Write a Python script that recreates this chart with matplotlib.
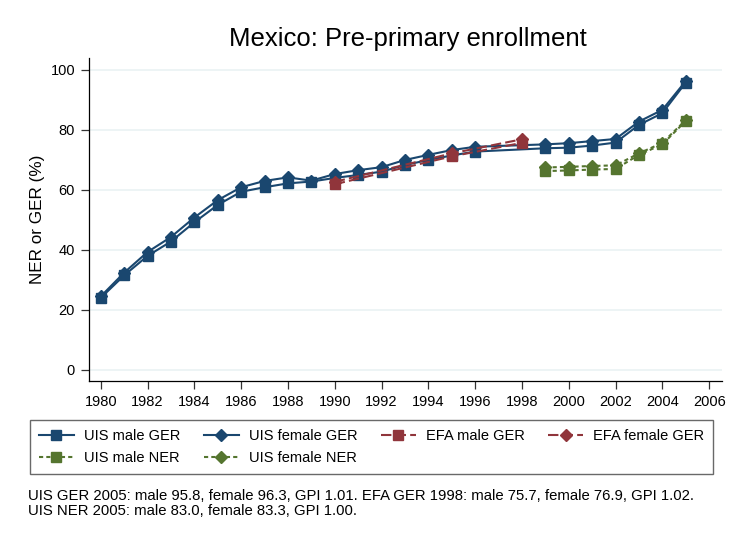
import matplotlib
matplotlib.use("Agg")
import matplotlib.pyplot as plt

plt.rcParams['font.family'] = ['Liberation Sans', 'DejaVu Sans']

# ---- data ----
uis_years = [1980, 1981, 1982, 1983, 1984, 1985, 1986, 1987, 1988, 1989, 1990,
             1991, 1992, 1993, 1994, 1995, 1996, 1999, 2000, 2001, 2002, 2003,
             2004, 2005]
uis_male_ger = [24.0, 31.5, 38.0, 42.8, 49.2, 55.0, 59.4, 60.9, 62.2, 62.8, 64.0,
                65.0, 66.1, 68.3, 70.0, 71.5, 72.8, 73.9, 74.1, 74.8, 75.8, 81.7,
                85.6, 95.8]
uis_female_ger = [24.5, 32.4, 39.3, 44.3, 50.8, 56.6, 60.9, 63.0, 64.2, 63.1, 65.3,
                  66.6, 67.6, 70.0, 71.7, 73.3, 74.4, 75.2, 75.6, 76.3, 77.0, 82.8,
                  86.7, 96.3]

efa_years = [1990, 1995, 1998]
efa_male_ger = [61.9, 71.2, 75.7]
efa_female_ger = [62.7, 72.2, 76.9]

ner_years = [1999, 2000, 2001, 2002, 2003, 2004, 2005]
uis_male_ner = [66.3, 66.5, 66.8, 67.0, 71.7, 75.2, 83.0]
uis_female_ner = [67.5, 67.7, 68.0, 68.2, 72.2, 75.7, 83.3]

x_ticks = list(range(1980, 2007, 2))
y_ticks = [0, 20, 40, 60, 80, 100]

title = "Mexico: Pre-primary enrollment"
ylabel = "NER or GER (%)"
note1 = ("UIS GER 2005: male 95.8, female 96.3, GPI 1.01. "
         "EFA GER 1998: male 75.7, female 76.9, GPI 1.02.")
note2 = "UIS NER 2005: male 83.0, female 83.3, GPI 1.00."

NAVY = "#1a476f"
MAROON = "#90353b"
GREEN = "#55752f"

W, H = 731, 538
fig = plt.figure(figsize=(W / 100, H / 100), dpi=100)
fig.patch.set_facecolor("white")
ax = fig.add_axes([89 / W, 1 - 381 / H, (722 - 89) / W, (381 - 58) / H])

lw = 1.5
h1, = ax.plot(uis_years, uis_male_ger, color=NAVY, lw=lw, marker='s', ms=7,
              mec=NAVY, mfc=NAVY, label="UIS male GER")
h2, = ax.plot(uis_years, uis_female_ger, color=NAVY, lw=lw, marker='D', ms=6,
              mec=NAVY, mfc=NAVY, label="UIS female GER")
h3, = ax.plot(efa_years, efa_male_ger, color=MAROON, lw=lw, marker='s', ms=7,
              mec=MAROON, mfc=MAROON, dashes=(5, 2), label="EFA male GER")
h4, = ax.plot(efa_years, efa_female_ger, color=MAROON, lw=lw, marker='D', ms=6,
              mec=MAROON, mfc=MAROON, dashes=(5, 2), label="EFA female GER")
h5, = ax.plot(ner_years, uis_male_ner, color=GREEN, lw=lw, marker='s', ms=7,
              mec=GREEN, mfc=GREEN, dashes=(2, 1.5), label="UIS male NER")
h6, = ax.plot(ner_years, uis_female_ner, color=GREEN, lw=lw, marker='D', ms=6,
              mec=GREEN, mfc=GREEN, dashes=(2, 1.5), label="UIS female NER")

ax.set_xlim(1979.5, 2006.55)
ax.set_ylim(-3.7, 104)
ax.set_xticks(x_ticks)
ax.set_yticks(y_ticks)
ax.yaxis.grid(True, color="#eaf2f3", lw=1.2)
ax.set_axisbelow(True)
for s in ["top", "right"]:
    ax.spines[s].set_visible(False)
for s in ["left", "bottom"]:
    ax.spines[s].set_color("black")
    ax.spines[s].set_linewidth(0.9)
ax.tick_params(axis='both', direction='out', length=6, width=0.9,
               color="#333333", labelsize=10.5, pad=4)
ax.set_ylabel(ylabel, fontsize=12.3)
ax.yaxis.set_label_coords((45 - 89) / (722 - 89), 0.5)

fig.text(408 / W, 1 - 39 / H, title, fontsize=18.5, ha='center', va='center')

handles = [h1, h5, h2, h6, h3, h4]
leg = fig.legend(handles=handles, labels=[h.get_label() for h in handles],
                 ncol=4, loc='upper left', bbox_to_anchor=(30 / W, 1 - 420 / H),
                 fontsize=10.5, frameon=True, fancybox=False, shadow=False,
                 handlelength=2.4, handletextpad=0.7, columnspacing=1.6,
                 borderpad=0.6, labelspacing=0.55, numpoints=1,
                 borderaxespad=0)
leg.get_frame().set_edgecolor("#444444")
leg.get_frame().set_linewidth(1.0)

fig.text(28 / W, 1 - 496 / H, note1, fontsize=10.7, ha='left', va='center')
fig.text(28 / W, 1 - 511 / H, note2, fontsize=10.7, ha='left', va='center')

fig.savefig("out.png", dpi=100, facecolor="white")
